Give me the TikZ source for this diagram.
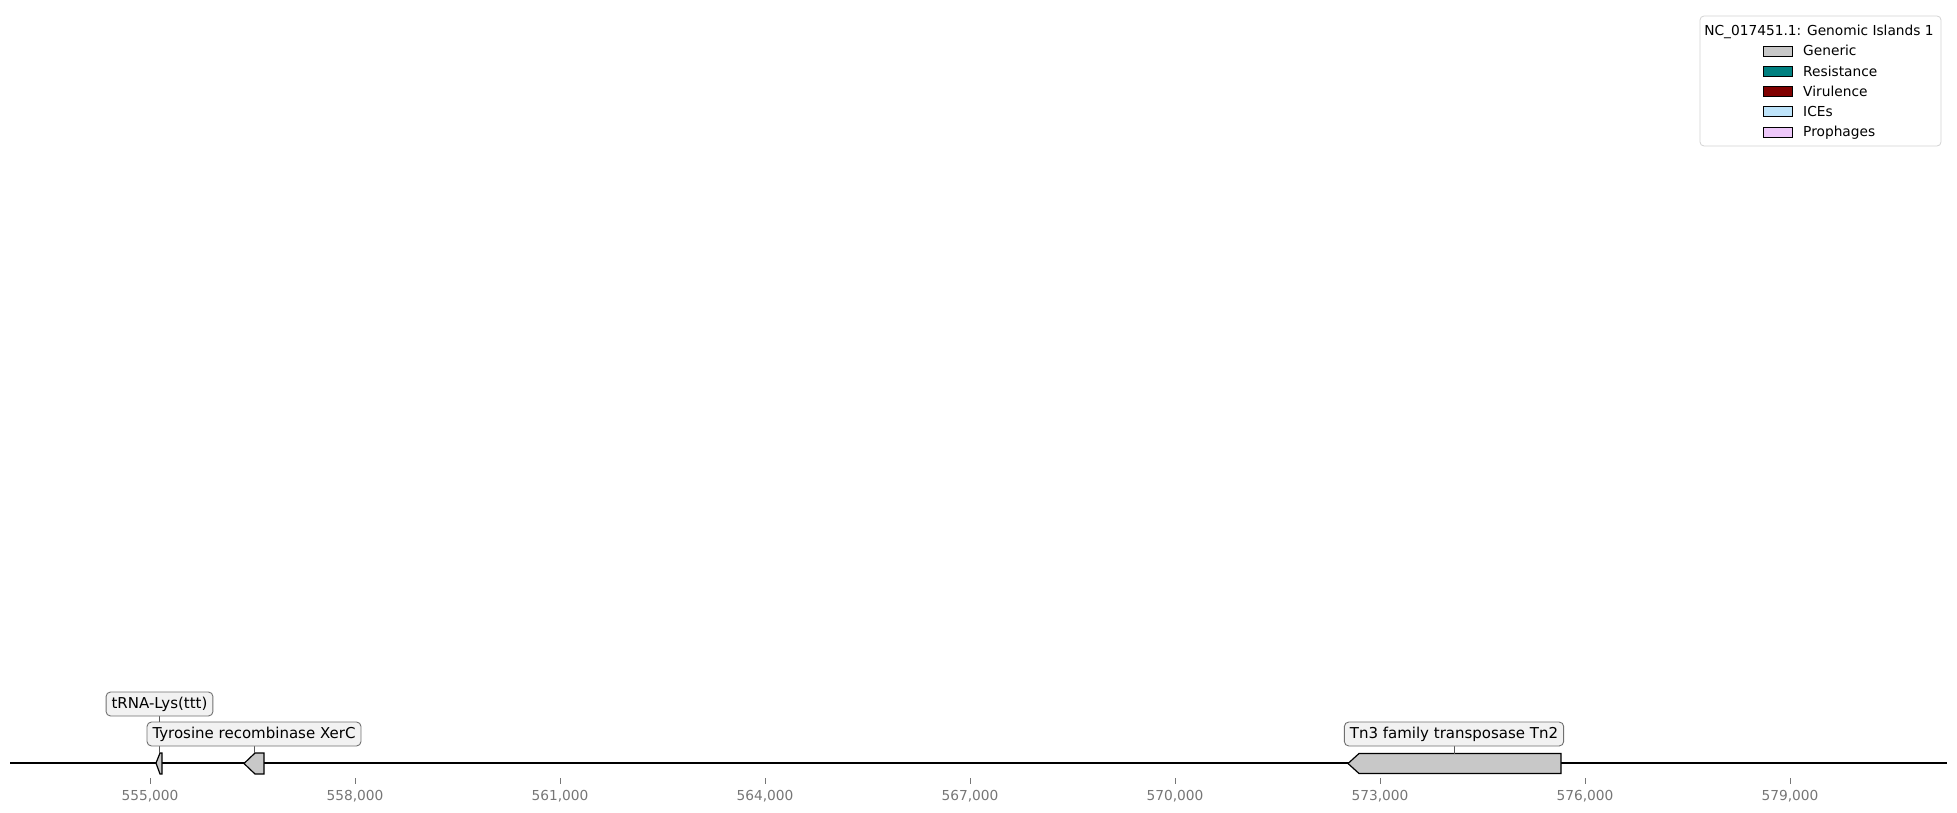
\documentclass[tikz,border=0pt]{standalone}
\usepackage{fontspec}
\setmainfont{DejaVu Sans}
\usepackage{xcolor}
\usepackage{tikz}
\usetikzlibrary{calc,arrows.meta,positioning}

\definecolor{generic}{RGB}{200,200,200}
\definecolor{resist}{RGB}{0,128,128}
\definecolor{virul}{RGB}{128,0,0}
\definecolor{icecol}{RGB}{190,228,250}
\definecolor{prophcol}{RGB}{238,200,250}
\definecolor{tickgray}{RGB}{118,118,118}
\definecolor{tagborder}{RGB}{112,112,112}

\begin{document}
\begin{tikzpicture}[
    x=1pt, y=-1pt,
    font=\fontsize{15}{18}\selectfont,
    gene/.style={draw=black, fill=generic, line width=1.2pt, line join=miter},
    tag/.style={draw=tagborder, fill=gray!10, rounded corners=4.5pt, line width=0.9pt,
        inner xsep=5.5pt, inner ysep=0pt, minimum height=24pt,
        text height=11.5pt, text depth=3pt},
    leader/.style={draw=gray!70!black, line width=0.7pt},
    legfont/.style={font=\fontsize{13.75}{16}\selectfont}
]
\useasboundingbox (0,0) rectangle (1957,813);

%------------------------------------------------
% Axis
%------------------------------------------------
\draw[line width=2pt] (10,763) -- (1947,763);

\foreach \i/\lab in {
0/{555,000},
1/{558,000},
2/{561,000},
3/{564,000},
4/{567,000},
5/{570,000},
6/{573,000},
7/{576,000},
8/{579,000}}
{
    \draw[tickgray, line width=0.8pt] (150+\i*205,778) -- ++(0,6);
    \node[tickgray, legfont, inner sep=0pt, anchor=base] (tick\i) at (150+\i*205,800) {\lab};
}

%------------------------------------------------
% Genes
%------------------------------------------------

% tRNA-Lys(ttt)
\draw[gene] (156,763) -- (160,753) -- (162,753) -- (162,774) -- (160,774) -- cycle;
\coordinate (trna) at (159,753);

% XerC
\draw[gene] (244,763.5) -- (255,753) -- (264,753) -- (264,774) -- (255,774) -- cycle;
\coordinate (xerc) at (254,753);

% Tn2
\draw[gene] (1348,763.5) -- (1359,753.5) -- (1561,753.5) -- (1561,773.5) -- (1359,773.5) -- cycle;
\coordinate (tnp) at (1454.5,753.5);

%------------------------------------------------
% Labels
%------------------------------------------------
\draw[leader] (159,716) -- (trna);
\draw[leader] (254,746) -- (xerc);
\draw[leader] (1454.5,746) -- (tnp);

\node[tag] (trnalab) at (159.5,704) {tRNA-Lys(ttt)};
\node[tag] (xerclab) at (254,734) {Tyrosine recombinase XerC};
\node[tag] (tnplab) at (1454,734) {Tn3 family transposase Tn2};

%------------------------------------------------
% Legend
%------------------------------------------------
\node[draw=gray!35, rounded corners=4pt, line width=0.8pt,
    minimum width=241pt, minimum height=130pt, inner sep=0pt] (legend) at (1820.5,81) {};
\node[legfont, inner sep=0pt, anchor=base] (legtitle) at (1819,36) {NC\_017451.1: Genomic Islands 1};

\foreach \n/\c/\txt [count=\k] in {
gen/generic/Generic,
res/resist/Resistance,
vir/virul/Virulence,
ice/icecol/ICEs,
pro/prophcol/Prophages}
{
    \node[draw=black, fill=\c, line width=0.6pt, minimum width=29pt, minimum height=10pt,
        inner sep=0pt] (\n) at (1777.5,30.75+\k*20.25) {};
    \node[legfont, inner sep=0pt, anchor=base west] (\n txt) at (1803,35.75+\k*20.25) {\txt};
}

\end{tikzpicture}
\end{document}
